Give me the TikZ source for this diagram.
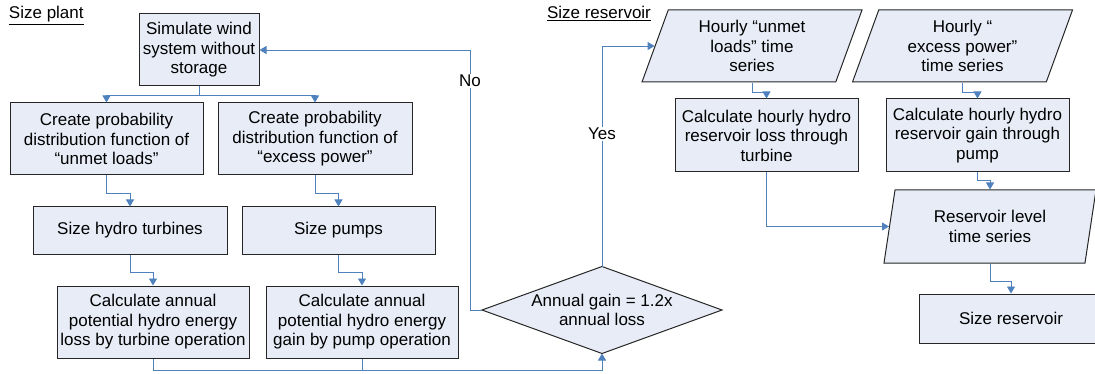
\documentclass[tikz,border=0pt]{standalone}
\usepackage{fontspec}
\setmainfont{Liberation Sans}
\usepackage{tikz}
\usetikzlibrary{arrows.meta,positioning,calc,shapes.geometric,backgrounds}
\definecolor{hyfill}{RGB}{231,236,247}
\definecolor{hyblue}{RGB}{79,129,189}
\newcommand{\hyfont}{\fontsize{17}{19.5}\selectfont}
\tikzset{
  hybox/.style={draw=black!85, line width=1pt, fill=hyfill, align=center, inner sep=0pt, font=\hyfont},
  hydata/.style={trapezium, trapezium left angle=63, trapezium right angle=117, trapezium stretches body,
    draw=black!85, line width=1pt, fill=hyfill, align=center, inner sep=0pt, font=\hyfont},
  hylabel/.style={font=\hyfont, text=black, inner sep=1pt, outer sep=0pt},
  hyline/.style={hyblue, line width=0.9pt},
  hyflow/.style={-{Triangle[length=7pt,width=8pt]}, hyblue, line width=0.9pt}
}

\begin{document}
\begin{tikzpicture}[x=1pt,y=-1pt]
  \useasboundingbox (0,0) rectangle (1095,374);
  \clip (0,0) rectangle (1095,374);

  % size plant
  \node[hylabel, anchor=base west] (hdPlant) at (8,19) {\underline{Size plant}};
  \node[hybox, minimum width=120pt, minimum height=72pt] (sim) at (199,50) {Simulate wind\\system without\\storage};
  \node[hybox, minimum width=193pt, minimum height=72pt] (pdfUnmet) at (106.5,139) {Create probability\\distribution function of\\“unmet loads”};
  \node[hybox, minimum width=194pt, minimum height=72pt] (pdfExcess) at (315,139) {Create probability\\distribution function of\\“excess power”};
  \node[hybox, minimum width=194pt, minimum height=47pt] (turb) at (130,230.5) {Size hydro turbines};
  \node[hybox, minimum width=193pt, minimum height=47pt] (pumps) at (338.5,230.5) {Size pumps};
  \node[hybox, minimum width=192pt, minimum height=72pt] (lossAnn) at (153,322) {Calculate annual\\potential hydro energy\\loss by turbine operation};
  \node[hybox, minimum width=192pt, minimum height=72pt] (gainAnn) at (362,322) {Calculate annual\\potential hydro energy\\gain by pump operation};

  \node[hylabel, align=center, minimum width=240pt, minimum height=87pt] (check) at (602,310) {Annual gain = 1.2x\\annual loss};
  \begin{scope}[on background layer]
    \draw[draw=black!85, line width=1pt, fill=hyfill] (check.west) -- (check.north) -- (check.east) -- (check.south) -- cycle;
  \end{scope}

  % size reservoir
  \node[hylabel, anchor=base west] (hdRes) at (546,19) {\underline{Size reservoir}};
  \node[hydata, minimum width=220pt, minimum height=72pt] (hrUnmet) at (752,46) {Hourly “unmet\\loads” time\\series};
  \node[hydata, minimum width=220pt, minimum height=72pt] (hrExcess) at (962.5,46) {Hourly “\\excess power”\\time series};
  \node[hybox, minimum width=183pt, minimum height=73pt] (lossHr) at (766.5,135.5) {Calculate hourly hydro\\reservoir loss through\\turbine};
  \node[hybox, minimum width=183pt, minimum height=73pt] (gainHr) at (977.5,135.5) {Calculate hourly hydro\\reservoir gain through\\pump};
  \node[hydata, trapezium left angle=71, trapezium right angle=109, minimum width=212pt, minimum height=73pt] (level) at (990,226.5) {Reservoir level\\time series};
  \node[hybox, minimum width=184pt, minimum height=49pt] (sizeRes) at (1011,318.5) {Size reservoir};

  \draw[hyflow] (sim.south) -- ++(0,9) -| (pdfUnmet.north);
  \draw[hyflow] (sim.south) -- ++(0,9) -| (pdfExcess.north);
  \draw[hyflow] (pdfUnmet.south) -- ++(0,18) -| (turb.north);
  \draw[hyflow] (pdfExcess.south) -- ++(0,18) -| (pumps.north);
  \draw[hyflow] (turb.south) -- ++(0,18) -| (lossAnn.north);
  \draw[hyflow] (pumps.south) -- ++(0,18) -| (gainAnn.north);
  \draw[hyflow] (lossAnn.south) -- ++(0,12) -| (check.south);
  \draw[hyline] (gainAnn.south) -- ++(0,12);
  \draw[hyflow] (check.west) -- ++(-12,0) |- (sim.east) node[hylabel, pos=0.44, fill=white] (no) {No};
  \draw[hyflow] (check.north) |- (hrUnmet.west) node[hylabel, pos=0.3, fill=white] (yes) {Yes};

  \draw[hyflow] (hrUnmet.south) -- ++(0,10) -| (lossHr.north);
  \draw[hyflow] (hrExcess.south) -- ++(0,10) -| (gainHr.north);
  \draw[hyflow] (lossHr.south) |- (level.west);
  \draw[hyflow] (gainHr.south) -- ++(0,8) -| (level.north);
  \draw[hyflow] (level.south) -- ++(0,18) -| (sizeRes.north);
\end{tikzpicture}
\end{document}
